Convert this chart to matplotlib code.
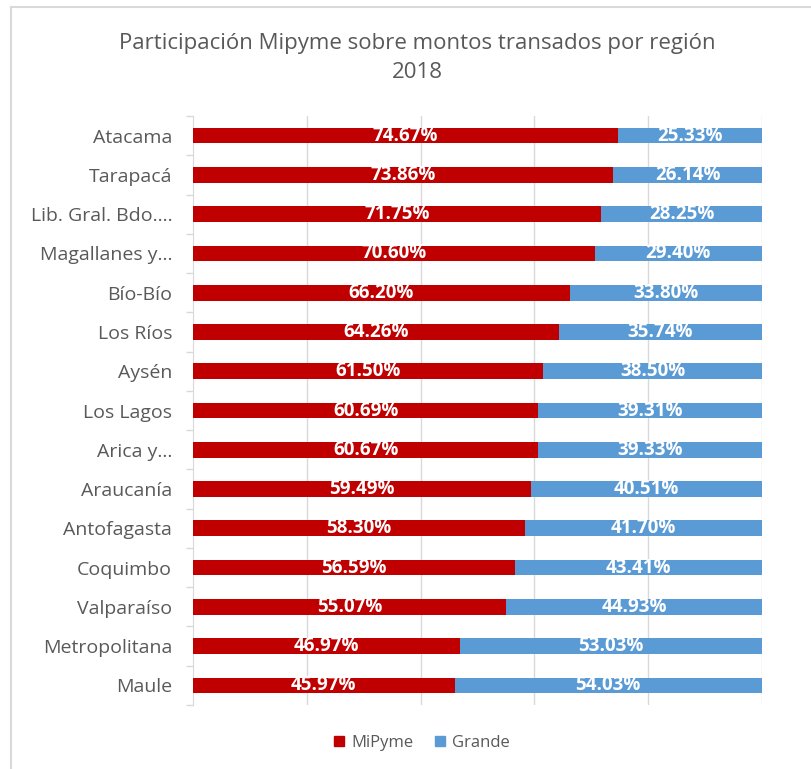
import matplotlib
matplotlib.use("Agg")
import matplotlib.pyplot as plt
import numpy as np
from matplotlib.lines import Line2D

plt.rcParams['font.family'] = ['Open Sans', 'DejaVu Sans']

regions = ["Atacama", "Tarapacá", "Lib. Gral. Bdo....", "Magallanes y...", "Bío-Bío",
           "Los Ríos", "Aysén", "Los Lagos", "Arica y...", "Araucanía",
           "Antofagasta", "Coquimbo", "Valparaíso", "Metropolitana", "Maule"]
mipyme = [74.67, 73.86, 71.75, 70.60, 66.20, 64.26, 61.50, 60.69, 60.67, 59.49,
          58.30, 56.59, 55.07, 46.97, 45.97]
grande = [25.33, 26.14, 28.25, 29.40, 33.80, 35.74, 38.50, 39.31, 39.33, 40.51,
          41.70, 43.41, 44.93, 53.03, 54.03]

red = "#C00000"
blue = "#5B9BD5"
gray = "#595959"

fig = plt.figure(figsize=(8.11, 7.69), dpi=100)
ax = fig.add_axes([193/811, 1-705/769, (762-193)/811, (705-116)/769])

n = len(regions)
y = np.arange(n)[::-1]
mp = np.array(mipyme) / 100
gr = np.array(grande) / 100
h = 0.4
ax.barh(y, mp, height=h, color=red, zorder=3)
ax.barh(y, gr, left=mp, height=h, color=blue, zorder=3)

for yi, a, b in zip(y, mipyme, grande):
    ax.text(a/200, yi, f"{a:.2f}%", ha='center', va='center', color='white',
            fontsize=13.5, fontweight='bold', zorder=4)
    ax.text(a/100 + b/200, yi, f"{b:.2f}%", ha='center', va='center', color='white',
            fontsize=13.5, fontweight='bold', zorder=4)

ax.set_xlim(0, 1)
ax.set_ylim(-0.5, n-0.5)
ax.set_xticks([0.2, 0.4, 0.6, 0.8, 1.0])
ax.xaxis.grid(True, color="#D9D9D9", linewidth=1, zorder=0)
ax.tick_params(axis='x', length=0, labelbottom=False)
ax.set_yticks(y)
ax.set_yticklabels(regions, fontsize=14, color=gray)
ax.tick_params(axis='y', which='major', length=0, pad=15)
ax.set_yticks(np.arange(-0.5, n, 1), minor=True)
ax.tick_params(axis='y', which='minor', length=5, color="#D9D9D9", width=1)
for s in ['top', 'right', 'bottom']:
    ax.spines[s].set_visible(False)
ax.spines['left'].set_color("#D9D9D9")

fig.text(417/811, 1-44/769, "Participación Mipyme sobre montos transados por región",
         ha='center', va='center', fontsize=16, color=gray)
fig.text(417/811, 1-73/769, "2018", ha='center', va='center', fontsize=16, color=gray)

handles = [Line2D([], [], marker='s', linestyle='none', markersize=6.5, color=red),
           Line2D([], [], marker='s', linestyle='none', markersize=6.5, color=blue)]
leg = fig.legend(handles, ["MiPyme", "Grande"], loc='center', bbox_to_anchor=(421/811, 1-743/769),
                 ncol=2, frameon=False, fontsize=12, handletextpad=0.3, columnspacing=1.2,
                 handlelength=0.8)
for t in leg.get_texts():
    t.set_color(gray)

# chart border (top and left visible)
fig.add_artist(Line2D([11/811, 11/811], [0, 1-7/769], transform=fig.transFigure, color="#D9D9D9", lw=1.5))
fig.add_artist(Line2D([11/811, 1], [1-7/769, 1-7/769], transform=fig.transFigure, color="#D9D9D9", lw=1.5))

fig.savefig("out.png", dpi=100)
